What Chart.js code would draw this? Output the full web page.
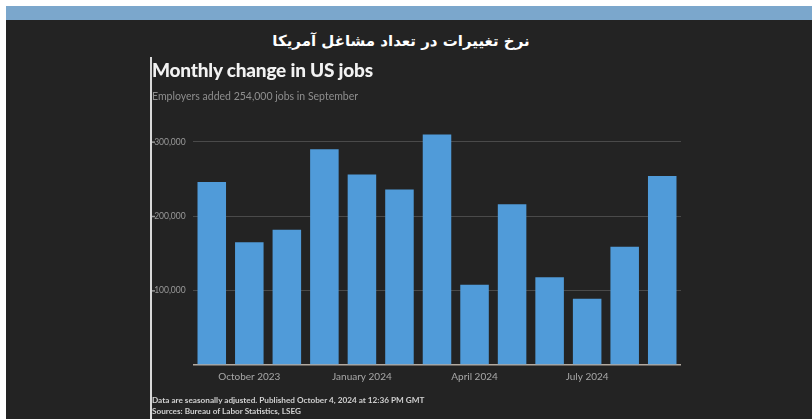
<!DOCTYPE html>
<html>
<head>
<meta charset="utf-8">
<script src="https://cdn.jsdelivr.net/npm/chart.js@4"></script>
<style>
  html, body { margin: 0; padding: 0; }
  body { width: 812px; height: 419px; background: #ffffff; position: relative; overflow: hidden; }
  #panel { position: absolute; left: 6px; top: 6px; right: 0; bottom: 0; background: #232323; }
  #band { position: absolute; left: 6px; top: 6px; right: 0; height: 14px; background: #7ba7cc; }
  #fa-title { position: absolute; left: 0; right: 10px; top: 32px; text-align: center; direction: rtl;
              font-family: "DejaVu Sans", sans-serif; font-weight: bold; font-size: 15px; color: #ffffff; }
  #rule { position: absolute; left: 150px; top: 57px; width: 1.5px; bottom: 0; background: #d8d8d8; }
  .soft { filter: blur(0.35px); }
  #title { position: absolute; left: 152px; top: 58px; font-family: Lato, sans-serif; font-weight: 900;
           font-size: 19px; color: #f2f2f2; letter-spacing: -0.2px; }
  #subtitle { position: absolute; left: 152px; top: 90px; font-family: Lato, sans-serif; font-size: 10.5px; color: #8e8e8e; }
  .foot { position: absolute; left: 152px; font-family: Lato, sans-serif; font-weight: bold; font-size: 8.2px; color: #d0d0d0; }
  #wrap { position: absolute; left: 152px; top: 120px; width: 531px; height: 270px; }
</style>
</head>
<body>
<div id="panel"></div>
<div id="band"></div>
<div id="fa-title">نرخ تغییرات در تعداد مشاغل آمریکا</div>
<div id="rule"></div>
<div id="title" class="soft">Monthly change in US jobs</div>
<div id="subtitle" class="soft">Employers added 254,000 jobs in September</div>
<div class="foot soft" style="top:395px">Data are seasonally adjusted. Published October 4, 2024 at 12:36 PM GMT</div>
<div class="foot soft" style="top:406px">Sources: Bureau of Labor Statistics, LSEG</div>
<div id="wrap" class="soft"><canvas id="chart"></canvas></div>
<script>
// Monthly nonfarm payroll change, Sep 2023 – Sep 2024
const months = ["Sep 2023", "Oct 2023", "Nov 2023", "Dec 2023", "Jan 2024", "Feb 2024", "Mar 2024",
                "Apr 2024", "May 2024", "Jun 2024", "Jul 2024", "Aug 2024", "Sep 2024"];
const jobsAdded = [246000, 165000, 182000, 290000, 256000, 236000, 310000,
                   108000, 216000, 118000, 89000, 159000, 254000];
// Months that carry an axis label
const xTickLabels = { "Oct 2023": "October 2023", "Jan 2024": "January 2024",
                      "Apr 2024": "April 2024", "Jul 2024": "July 2024" };
const yTickValues = [0, 100000, 200000, 300000];

// Small tick marks in front of the y-axis labels
const tickDots = {
  id: 'tickDots',
  afterDraw(chart) {
    const y = chart.scales.y, ctx = chart.ctx;
    ctx.save();
    ctx.fillStyle = '#9a9a9a';
    yTickValues.forEach(v => {
      if (v === 0) return;
      const py = y.getPixelForValue(v);
      ctx.fillRect(y.left, py - 0.5, 3, 1.5);
    });
    ctx.restore();
  }
};

new Chart(document.getElementById('chart'), {
  type: 'bar',
  data: {
    labels: months,
    datasets: [{
      data: jobsAdded,
      backgroundColor: '#509bd9',
      borderWidth: 0,
      barPercentage: 0.76,
      categoryPercentage: 1.0
    }]
  },
  options: {
    responsive: true,
    maintainAspectRatio: false,
    animation: false,
    layout: { padding: { top: 7, right: 2, left: 0, bottom: 0 } },
    plugins: { legend: { display: false }, tooltip: { enabled: false } },
    scales: {
      x: {
        grid: { display: false, drawTicks: false },
        border: { display: false },
        ticks: {
          autoSkip: false, maxRotation: 0, padding: 6,
          color: '#a8a8a8', font: { family: 'Lato', size: 10 },
          callback: (v, i) => xTickLabels[months[i]] || ''
        },
        afterFit: s => { s.height = 25; }
      },
      y: {
        min: 0, max: 320000,
        afterBuildTicks: s => { s.ticks = yTickValues.map(v => ({ value: v })); },
        grid: {
          drawTicks: false,
          color: ctx => ctx.tick && ctx.tick.value === 0 ? '#b3aaa0' : '#4a4a4a',
          lineWidth: ctx => ctx.tick && ctx.tick.value === 0 ? 1.5 : 1
        },
        border: { display: false },
        ticks: {
          crossAlign: 'far', padding: 0,
          color: '#9a9a9a', font: { family: 'Lato', size: 8.5 },
          callback: v => v === 0 ? '' : '\u2009\u2009' + v.toLocaleString('en-US')
        },
        afterFit: s => { s.width = 41; }
      }
    }
  },
  plugins: [tickDots]
});
</script>
</body>
</html>
